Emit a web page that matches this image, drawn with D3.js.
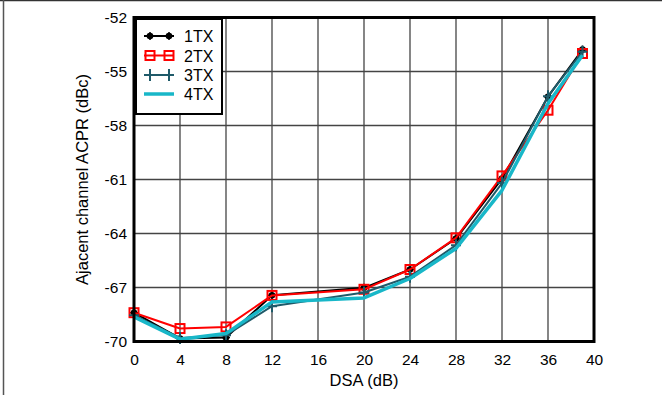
<!DOCTYPE html>
<html><head><meta charset="utf-8">
<script src="https://cdn.jsdelivr.net/npm/d3@7"></script>
<style>html,body{margin:0;padding:0;background:#fff;}svg{display:block;font-family:"Liberation Sans",Arial,Helvetica,sans-serif;}</style>
</head><body>
<script>
const dsa = [0, 4, 8, 12, 20, 24, 28, 32, 36, 39];
const tx1 = [-68.4, -69.83, -69.78, -67.43, -67.02, -66.0, -64.28, -60.95, -56.4, -53.78];
const tx2 = [-68.4, -69.28, -69.19, -67.44, -67.1, -66.0, -64.24, -60.8, -57.15, -54.0];
const tx3 = [-68.54, -69.8, -69.65, -68.04, -67.28, -66.4, -64.65, -61.2, -56.37, -53.9];
const tx4 = [-68.63, -69.87, -69.56, -67.8, -67.58, -66.5, -64.83, -61.6, -56.78, -54.1];
const seriesNames = ["1TX", "2TX", "3TX", "4TX"];
const xTicks = [0, 4, 8, 12, 16, 20, 24, 28, 32, 36, 40];
const yTicks = [-52, -55, -58, -61, -64, -67, -70];

const W = 662, H = 395;
const svg = d3.select("body").append("svg").attr("width", W).attr("height", H);
const L = 134, R = 594, T = 17.5, B = 341.5;
const x = d3.scaleLinear().domain([0, 40]).range([L, R]);
const y = d3.scaleLinear().domain([-70, -52]).range([B, T]);

// outer frame (top and left only)
svg.append("line").attr("x1", 0).attr("x2", W).attr("y1", 0.5).attr("y2", 0.5).attr("stroke", "#333").attr("stroke-width", 1.5);
svg.append("line").attr("x1", 3.5).attr("x2", 3.5).attr("y1", 0).attr("y2", H).attr("stroke", "#555").attr("stroke-width", 1.5);

// grid
const grid = svg.append("g");
xTicks.forEach(t => grid.append("line").attr("x1", x(t)).attr("x2", x(t)).attr("y1", T).attr("y2", B).attr("stroke", "#444").attr("stroke-width", 1.3));
yTicks.forEach(t => grid.append("line").attr("x1", L).attr("x2", R).attr("y1", y(t)).attr("y2", y(t)).attr("stroke", "#444").attr("stroke-width", 1.3));

// axes (labels only)
const fmt = d => String(d);
const xAxis = d3.axisBottom(x).tickValues(xTicks).tickSize(0).tickPadding(12).tickFormat(fmt);
const gx = svg.append("g").attr("transform", `translate(0,${B})`).call(xAxis);
gx.select(".domain").remove();
gx.selectAll("text").attr("font-size", 15.5).attr("fill", "#000").attr("font-family", "Liberation Sans, Arial, sans-serif");
const yAxis = d3.axisLeft(y).tickValues(yTicks).tickSize(0).tickPadding(7).tickFormat(fmt);
const gy = svg.append("g").attr("transform", `translate(${L},0)`).call(yAxis);
gy.select(".domain").remove();
gy.selectAll("text").attr("font-size", 15.5).attr("fill", "#000").attr("font-family", "Liberation Sans, Arial, sans-serif");

svg.append("text").attr("x", x(20)).attr("y", 386).attr("text-anchor", "middle").attr("font-size", 16.5).text("DSA (dB)");
svg.append("text").attr("transform", `translate(88,${(T + B) / 2}) rotate(-90)`).attr("text-anchor", "middle").attr("font-size", 16.5).text("Ajacent channel ACPR (dBc)");

const series = [
  {name: seriesNames[0], vals: tx1, color: "#000000", w: 2, marker: "dot"},
  {name: seriesNames[1], vals: tx2, color: "#ff0000", w: 2, marker: "square"},
  {name: seriesNames[2], vals: tx3, color: "#1f5a69", w: 2, marker: "plus"},
  {name: seriesNames[3], vals: tx4, color: "#18b7c8", w: 3.5, marker: null}
];
const line = d3.line().x(d => x(d[0])).y(d => y(d[1]));

function drawMarker(g, kind, cx, cy, color) {
  if (kind === "dot") {
    g.append("circle").attr("cx", cx).attr("cy", cy).attr("r", 3.3).attr("fill", color);
    g.append("path").attr("d", `M${cx-4},${cy}H${cx+4}M${cx},${cy-4}V${cy+4}`).attr("stroke", color).attr("stroke-width", 1.5);
  } else if (kind === "square") {
    g.append("rect").attr("x", cx - 4.5).attr("y", cy - 4.5).attr("width", 9).attr("height", 9).attr("fill", "none").attr("stroke", color).attr("stroke-width", 2);
  } else if (kind === "plus") {
    g.append("path").attr("d", `M${cx-5},${cy}H${cx+5}M${cx},${cy-6}V${cy+6}`).attr("stroke", color).attr("stroke-width", 2);
  }
}

series.forEach(s => {
  const pts = dsa.map((d, i) => [d, s.vals[i]]);
  svg.append("path").datum(pts).attr("d", line).attr("fill", "none").attr("stroke", s.color).attr("stroke-width", s.w).attr("stroke-linejoin", "round");
  if (s.marker) {
    const g = svg.append("g");
    pts.forEach(p => drawMarker(g, s.marker, x(p[0]), y(p[1]), s.color));
  }
});

// plot border
svg.append("rect").attr("x", L).attr("y", T).attr("width", R - L).attr("height", B - T).attr("fill", "none").attr("stroke", "#000").attr("stroke-width", 3);

// legend
const lg = svg.append("g");
lg.append("rect").attr("x", 136).attr("y", 19).attr("width", 86).attr("height", 95).attr("fill", "#fff").attr("stroke", "#000").attr("stroke-width", 2);
const rowsY = [36, 55.5, 75, 94];
series.forEach((s, i) => {
  const yy = rowsY[i];
  lg.append("line").attr("x1", 144).attr("x2", 174).attr("y1", yy).attr("y2", yy).attr("stroke", s.color).attr("stroke-width", s.w);
  if (s.marker) { drawMarker(lg, s.marker, 150, yy, s.color); drawMarker(lg, s.marker, 169, yy, s.color); }
  lg.append("text").attr("x", 184).attr("y", yy + 6).attr("font-size", 16).text(s.name);
});
</script>
</body></html>
